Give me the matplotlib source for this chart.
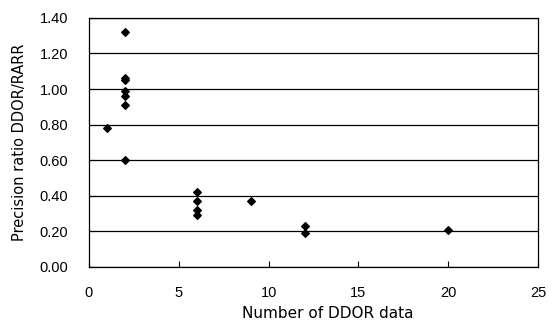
import numpy as np
import matplotlib.pyplot as plt

plt.rcParams['font.family'] = ['Liberation Sans', 'DejaVu Sans']

ddor_count = [1, 2, 2, 2, 2, 2, 2, 2, 6, 6, 6, 6, 9, 12, 12, 20]
precision_ratio = [0.78, 1.32, 1.06, 1.05, 0.99, 0.96, 0.91, 0.60,
                   0.42, 0.37, 0.32, 0.29, 0.37, 0.23, 0.19, 0.21]

y_ticks = np.arange(0, 1.41, 0.2)
x_ticks = [0, 5, 10, 15, 20, 25]

fig = plt.figure(figsize=(5.52, 3.2), dpi=100)
ax = fig.add_axes([0.161, 0.166, 0.814, 0.778])

ax.scatter(ddor_count, precision_ratio, marker='D', s=15, color='black', zorder=3)

ax.set_xlim(0, 25)
ax.set_ylim(0, 1.4)
ax.set_xticks(x_ticks)
ax.set_yticks(y_ticks)
ax.set_yticklabels([f"{v:.2f}" for v in y_ticks])
ax.yaxis.grid(True, color='black', linewidth=0.9)
ax.tick_params(direction='in', labelsize=10.5, length=4)
ax.tick_params(axis='y', pad=15)
ax.tick_params(axis='x', pad=14)
for s in ax.spines.values():
    s.set_linewidth(0.9)

ax.set_xlabel('Number of DDOR data', fontsize=11, family='DejaVu Sans')
ax.xaxis.set_label_coords(0.532, -0.158)
ax.set_ylabel('Precision ratio DDOR/RARR', fontsize=10.5, family='DejaVu Sans', labelpad=9)

plt.savefig('out.png', dpi=100)
